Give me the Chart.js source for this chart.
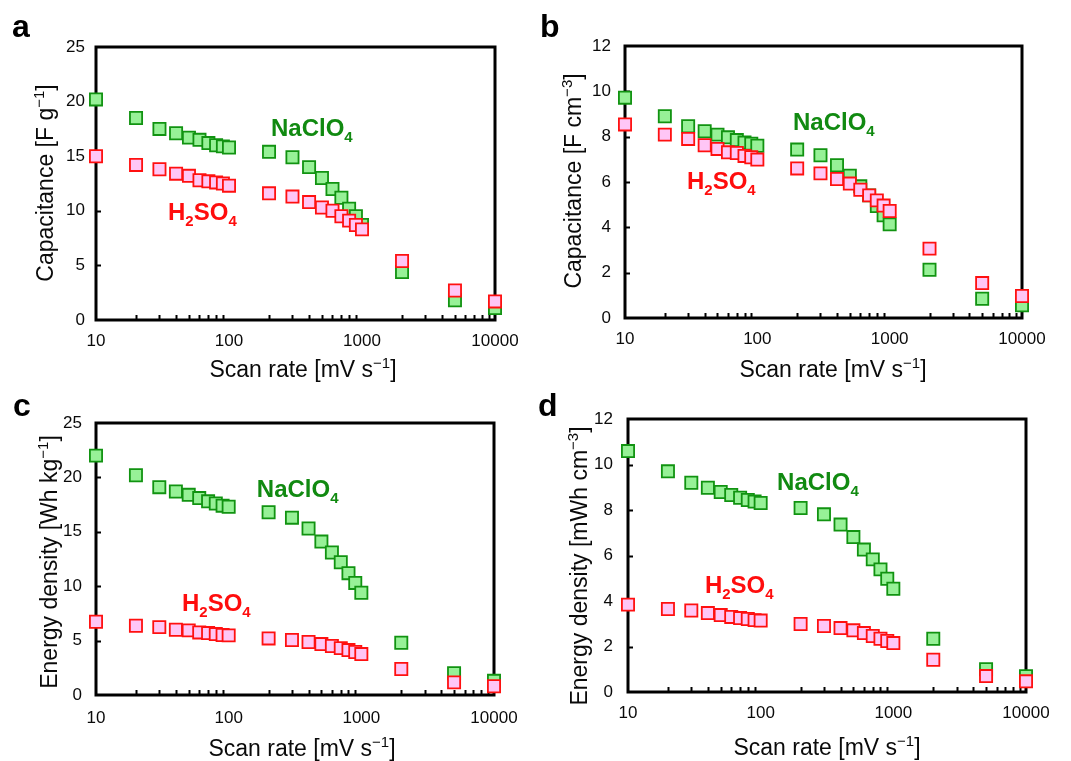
<!DOCTYPE html>
<html>
<head>
<meta charset="utf-8">
<script src="https://cdn.jsdelivr.net/npm/chart.js@4.4.1/dist/chart.umd.min.js"></script>
<style>
  html, body { margin: 0; padding: 0; background: #ffffff; }
  #wrap { position: relative; width: 1071px; height: 761px; overflow: hidden; }
  canvas { position: absolute; display: block; }
</style>
</head>
<body>
<div id="wrap">
  <canvas id="panelA" width="535" height="390" style="left:0px;top:0px"></canvas>
  <canvas id="panelB" width="536" height="390" style="left:535px;top:0px"></canvas>
  <canvas id="panelC" width="535" height="371" style="left:0px;top:390px"></canvas>
  <canvas id="panelD" width="536" height="371" style="left:535px;top:390px"></canvas>
</div>
<script>
// Scan rates (mV s^-1) shared by all four panels
const scanRates = [10, 20, 30, 40, 50, 60, 70, 80, 90, 100, 200, 300, 400, 500, 600, 700, 800, 900, 1000, 2000, 5000, 10000];

// Gravimetric capacitance (F g^-1)
const capGravNaClO4 = [20.2, 18.5, 17.5, 17.1, 16.7, 16.5, 16.2, 16.0, 15.9, 15.8, 15.4, 14.9, 14.0, 13.0, 12.0, 11.2, 10.2, 9.5, 8.7, 4.4, 1.8, 1.1];
const capGravH2SO4   = [15.0, 14.2, 13.8, 13.4, 13.2, 12.8, 12.7, 12.6, 12.5, 12.3, 11.6, 11.3, 10.8, 10.3, 10.0, 9.5, 9.1, 8.7, 8.3, 5.4, 2.7, 1.7];

// Volumetric capacitance (F cm^-3)
const capVolNaClO4 = [9.72, 8.90, 8.46, 8.24, 8.09, 7.97, 7.85, 7.74, 7.69, 7.60, 7.43, 7.18, 6.74, 6.28, 5.81, 5.41, 4.94, 4.53, 4.13, 2.13, 0.85, 0.56];
const capVolH2SO4   = [8.54, 8.09, 7.90, 7.62, 7.46, 7.31, 7.28, 7.15, 7.09, 6.99, 6.60, 6.38, 6.13, 5.93, 5.66, 5.41, 5.19, 4.96, 4.72, 3.06, 1.54, 0.97];

// Gravimetric energy density (Wh kg^-1)
const energyGravNaClO4 = [22.0, 20.2, 19.1, 18.7, 18.4, 18.1, 17.8, 17.6, 17.4, 17.3, 16.8, 16.3, 15.3, 14.1, 13.1, 12.2, 11.2, 10.3, 9.4, 4.8, 2.0, 1.3];
const energyGravH2SO4   = [6.73, 6.36, 6.24, 6.00, 5.94, 5.75, 5.69, 5.60, 5.51, 5.48, 5.20, 5.05, 4.87, 4.68, 4.50, 4.31, 4.13, 3.95, 3.76, 2.39, 1.16, 0.80];

// Volumetric energy density (mWh cm^-3)
const energyVolNaClO4 = [10.59, 9.70, 9.20, 8.98, 8.79, 8.66, 8.54, 8.44, 8.37, 8.31, 8.09, 7.81, 7.36, 6.81, 6.26, 5.83, 5.39, 4.98, 4.54, 2.34, 1.00, 0.69];
const energyVolH2SO4   = [3.84, 3.65, 3.58, 3.47, 3.38, 3.30, 3.25, 3.21, 3.16, 3.14, 2.99, 2.90, 2.81, 2.71, 2.59, 2.46, 2.34, 2.24, 2.15, 1.42, 0.70, 0.47];

// Axis ticks
const xTickValues = [10, 100, 1000, 10000];
const xMinorTicks = [20, 30, 40, 50, 60, 70, 80, 90, 200, 300, 400, 500, 600, 700, 800, 900, 2000, 3000, 4000, 5000, 6000, 7000, 8000, 9000];
const yTicksGrav = [0, 5, 10, 15, 20, 25];
const yTicksVol = [0, 2, 4, 6, 8, 10, 12];

const FONT = "'Liberation Sans', Arial, Helvetica, sans-serif";
const GREEN_FILL = '#97f197';
const GREEN_EDGE = '#119311';
const PINK_FILL = '#ffc6f6';
const RED_EDGE = '#ff1010';
const GREEN_TEXT = '#118a11';
const RED_TEXT = '#ff0d0d';
const INK = '#0a0a0a';

// Draws a run of text pieces (normal / superscript / subscript) on one baseline
function drawRich(ctx, parts, x, y, align) {
  let total = 0;
  parts.forEach(p => { ctx.font = p.font; total += ctx.measureText(p.t).width; });
  let cx = align === 'center' ? x - total / 2 : x;
  ctx.textAlign = 'left';
  ctx.textBaseline = 'alphabetic';
  parts.forEach(p => {
    ctx.font = p.font;
    ctx.fillStyle = p.color;
    ctx.fillText(p.t, cx, y + (p.dy || 0));
    cx += ctx.measureText(p.t).width;
  });
}

function titleParts(main, sup, tail) {
  return [
    { t: main, font: `23px ${FONT}`, color: INK },
    { t: sup, font: `15px ${FONT}`, color: INK, dy: -9 },
    { t: tail, font: `23px ${FONT}`, color: INK }
  ];
}

function formulaNaClO4(color) {
  return [
    { t: 'NaClO', font: `bold 24px ${FONT}`, color },
    { t: '4', font: `bold 15px ${FONT}`, color, dy: 6 }
  ];
}
function formulaH2SO4(color) {
  return [
    { t: 'H', font: `bold 24px ${FONT}`, color },
    { t: '2', font: `bold 15px ${FONT}`, color, dy: 6 },
    { t: 'SO', font: `bold 24px ${FONT}`, color },
    { t: '4', font: `bold 15px ${FONT}`, color, dy: 6 }
  ];
}

const panels = [
  {
    id: 'panelA', letter: 'a', letterPos: [12, 37],
    area: { l: 96, r: 495, t: 47, b: 320 },
    yTicks: yTicksGrav, yPad: 11, xPad: 11,
    green: capGravNaClO4, red: capGravH2SO4,
    yTitle: titleParts('Capacitance [F g', '−1', ']'), yTitlePos: [53, 183],
    xTitlePos: [303, 377],
    naLabel: [207, 16.85], hLabel: [34.8, 9.16]
  },
  {
    id: 'panelB', letter: 'b', letterPos: [5, 37],
    area: { l: 90, r: 487, t: 46, b: 318 },
    yTicks: yTicksVol, yPad: 14, xPad: 11,
    green: capVolNaClO4, red: capVolH2SO4,
    yTitle: titleParts('Capacitance [F cm', '−3', ']'), yTitlePos: [46, 181],
    xTitlePos: [298, 377],
    naLabel: [186, 8.29], hLabel: [29.4, 5.69]
  },
  {
    id: 'panelC', letter: 'c', letterPos: [13, 26],
    area: { l: 96, r: 494, t: 33, b: 305 },
    yTicks: yTicksGrav, yPad: 14, xPad: 13,
    green: energyGravNaClO4, red: energyGravH2SO4,
    yTitle: titleParts('Energy density [Wh kg', '−1', ']'), yTitlePos: [57, 172],
    xTitlePos: [302, 366],
    naLabel: [163, 18.2], hLabel: [44.5, 7.72]
  },
  {
    id: 'panelD', letter: 'd', letterPos: [3, 26],
    area: { l: 93, r: 491, t: 29, b: 302 },
    yTicks: yTicksVol, yPad: 15, xPad: 11,
    green: energyVolNaClO4, red: energyVolH2SO4,
    yTitle: titleParts('Energy density [mWh cm', '−3', ']'), yTitlePos: [52, 176],
    xTitlePos: [292, 365],
    naLabel: [133, 8.88], hLabel: [38, 4.35]
  }
];

// Frame, inward ticks, axis titles, in-plot labels and panel letter
const decorPlugin = {
  id: 'decor',
  beforeDatasetsDraw(chart) {
    const ctx = chart.ctx;
    const ca = chart.chartArea;
    const xs = chart.scales.x, ys = chart.scales.y;
    const cfg = chart.options.plugins.decor;
    ctx.save();
    ctx.strokeStyle = '#000';
    ctx.lineWidth = 2;
    ctx.beginPath();
    xMinorTicks.forEach(v => {
      const px = Math.round(xs.getPixelForValue(v)) + 0.5;
      ctx.moveTo(px, ca.bottom);
      ctx.lineTo(px, ca.bottom - 5);
    });
    cfg.yTicks.slice(1, -1).forEach(v => {
      const py = Math.round(ys.getPixelForValue(v)) + 0.5;
      ctx.moveTo(ca.left, py);
      ctx.lineTo(ca.left + 5, py);
    });
    ctx.stroke();
    ctx.lineWidth = 3;
    ctx.strokeRect(ca.left, ca.top, ca.right - ca.left, ca.bottom - ca.top);
    ctx.restore();
  },
  afterDraw(chart) {
    const ctx = chart.ctx;
    const cfg = chart.options.plugins.decor;
    const xs = chart.scales.x, ys = chart.scales.y;
    ctx.save();
    // x axis title
    drawRich(ctx, titleParts('Scan rate [mV s', '−1', ']'), cfg.xTitlePos[0], cfg.xTitlePos[1], 'center');
    // y axis title, rotated
    ctx.save();
    ctx.translate(cfg.yTitlePos[0], cfg.yTitlePos[1]);
    ctx.rotate(-Math.PI / 2);
    drawRich(ctx, cfg.yTitle, 0, 0, 'center');
    ctx.restore();
    // electrolyte labels
    drawRich(ctx, formulaNaClO4(GREEN_TEXT), xs.getPixelForValue(cfg.naLabel[0]), ys.getPixelForValue(cfg.naLabel[1]), 'left');
    drawRich(ctx, formulaH2SO4(RED_TEXT), xs.getPixelForValue(cfg.hLabel[0]), ys.getPixelForValue(cfg.hLabel[1]), 'left');
    // panel letter
    ctx.font = `bold 32px ${FONT}`;
    ctx.fillStyle = '#000';
    ctx.textAlign = 'left';
    ctx.textBaseline = 'alphabetic';
    ctx.fillText(cfg.letter, cfg.letterPos[0], cfg.letterPos[1]);
    ctx.restore();
  }
};

function zeroPadding(scale) {
  scale.paddingLeft = 0; scale.paddingRight = 0;
  scale.paddingTop = 0; scale.paddingBottom = 0;
}

panels.forEach(p => {
  const canvas = document.getElementById(p.id);
  const W = canvas.width, H = canvas.height;
  const toPoints = arr => scanRates.map((x, i) => ({ x, y: arr[i] }));
  new Chart(canvas, {
    type: 'scatter',
    data: {
      datasets: [
        {
          // H2SO4 sits on top of NaClO4 where they overlap
          label: 'H2SO4', data: toPoints(p.red), order: 0,
          pointStyle: 'rect', pointRadius: 8.6, pointHoverRadius: 8.6,
          backgroundColor: PINK_FILL, borderColor: RED_EDGE, borderWidth: 1.8,
          clip: false
        },
        {
          label: 'NaClO4', data: toPoints(p.green), order: 1,
          pointStyle: 'rect', pointRadius: 8.6, pointHoverRadius: 8.6,
          backgroundColor: GREEN_FILL, borderColor: GREEN_EDGE, borderWidth: 1.8,
          clip: false
        }
      ]
    },
    options: {
      responsive: false,
      animation: false,
      events: [],
      layout: { padding: { left: 0, top: p.area.t, right: W - p.area.r, bottom: 0 } },
      plugins: {
        legend: { display: false },
        tooltip: { enabled: false },
        decor: p
      },
      scales: {
        x: {
          type: 'logarithmic', min: 10, max: 10000,
          grid: { display: false, drawTicks: false },
          border: { display: false },
          ticks: {
            autoSkip: false, maxRotation: 0, minRotation: 0,
            padding: p.xPad, color: INK,
            font: { family: FONT, size: 17 },
            callback: v => String(v)
          },
          afterBuildTicks: s => { s.ticks = xTickValues.map(v => ({ value: v })); },
          afterFit: s => { s.height = H - p.area.b; zeroPadding(s); }
        },
        y: {
          type: 'linear', min: p.yTicks[0], max: p.yTicks[p.yTicks.length - 1],
          grid: { display: false, drawTicks: false },
          border: { display: false },
          ticks: {
            padding: p.yPad, color: INK,
            font: { family: FONT, size: 17 }
          },
          afterBuildTicks: s => { s.ticks = p.yTicks.map(v => ({ value: v })); },
          afterFit: s => { s.width = p.area.l; zeroPadding(s); }
        }
      }
    },
    plugins: [decorPlugin]
  });
});
</script>
</body>
</html>
